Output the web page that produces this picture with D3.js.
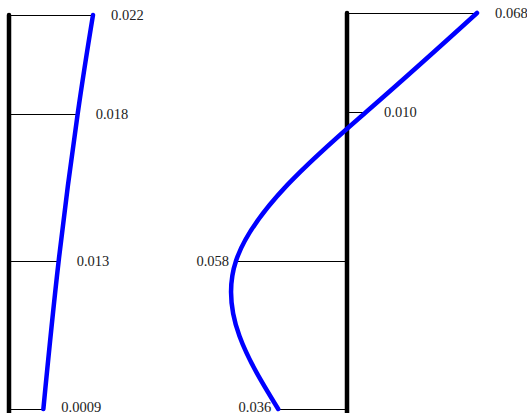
<!DOCTYPE html>
<html>
<head>
<meta charset="utf-8">
<script src="https://cdn.jsdelivr.net/npm/d3@7"></script>
<style>
  body { margin: 0; background: #fff; }
  svg { display: block; }
</style>
</head>
<body>
<div id="chart"></div>
<script>
// floor levels (m), shared by both panels
var levels = [8, 6, 3, 0];

// mode 1 (left) and mode 2 (right) displacements
var mode1Values = [0.022, 0.018, 0.013, 0.009];
var mode1Labels = ['0.022', '0.018', '0.013', '0.0009'];

var mode2Values = [0.068, 0.010, -0.058, -0.036];
var mode2Labels = ['0.068', '0.010', '0.058', '0.036'];

var width = 527;
var height = 413;

var svg = d3.select('#chart')
    .append('svg')
    .attr('width', width)
    .attr('height', height)

function drawPanel(values, labels, xscale, yscale, axisTop) {

    var pts = levels.map(function(h, i) {
        return { h: h, v: values[i], label: labels[i] };
    });

    var g = svg.append('g')

    // level lines from the axis to the curve
    g.selectAll('.level')
        .data(pts)
        .enter()
        .append('line')
        .attr('x1', xscale(0))
        .attr('x2', d => xscale(d.v))
        .attr('y1', d => Math.round(yscale(d.h)) + 0.5)
        .attr('y2', d => Math.round(yscale(d.h)) + 0.5)
        .attr('stroke', '#000')
        .attr('stroke-width', 1)

    // thick vertical axis
    g.append('line')
        .attr('x1', xscale(0))
        .attr('x2', xscale(0))
        .attr('y1', axisTop)
        .attr('y2', height + 2)
        .attr('stroke', '#000')
        .attr('stroke-width', 4.5)
        .attr('stroke-linecap', 'round')

    var line = d3.line()
        .x(d => xscale(d.v))
        .y(d => yscale(d.h))
        .curve(d3.curveNatural)

    g.append('path')
        .datum(pts)
        .attr('d', line)
        .attr('fill', 'none')
        .attr('stroke', '#0000ff')
        .attr('stroke-width', 4.5)
        .attr('stroke-linecap', 'round')

    g.selectAll('.lbl')
        .data(pts)
        .enter()
        .append('text')
        .attr('x', d => d.v >= 0 ? xscale(d.v) + 18 : xscale(d.v) - 7)
        .attr('y', d => Math.min(yscale(d.h) + 5, height - 1.5))
        .attr('text-anchor', d => d.v >= 0 ? 'start' : 'end')
        .style('font-family', '"Liberation Serif", "Times New Roman", serif')
        .style('font-size', '14.5px')
        .attr('fill', '#222')
        .text(d => d.label)
}

// left panel
var x1 = d3.scaleLinear().domain([0, 0.022]).range([9, 93]);
var y1 = d3.scaleLinear().domain([0, 8]).range([409, 15]);
drawPanel(mode1Values, mode1Labels, x1, y1, 15);

// right panel
var x2 = d3.scaleLinear().domain([0, 0.068]).range([347, 477]);
var y2 = d3.scaleLinear().domain([0, 8]).range([409, 13]);
drawPanel(mode2Values, mode2Labels, x2, y2, 13);
</script>
</body>
</html>
